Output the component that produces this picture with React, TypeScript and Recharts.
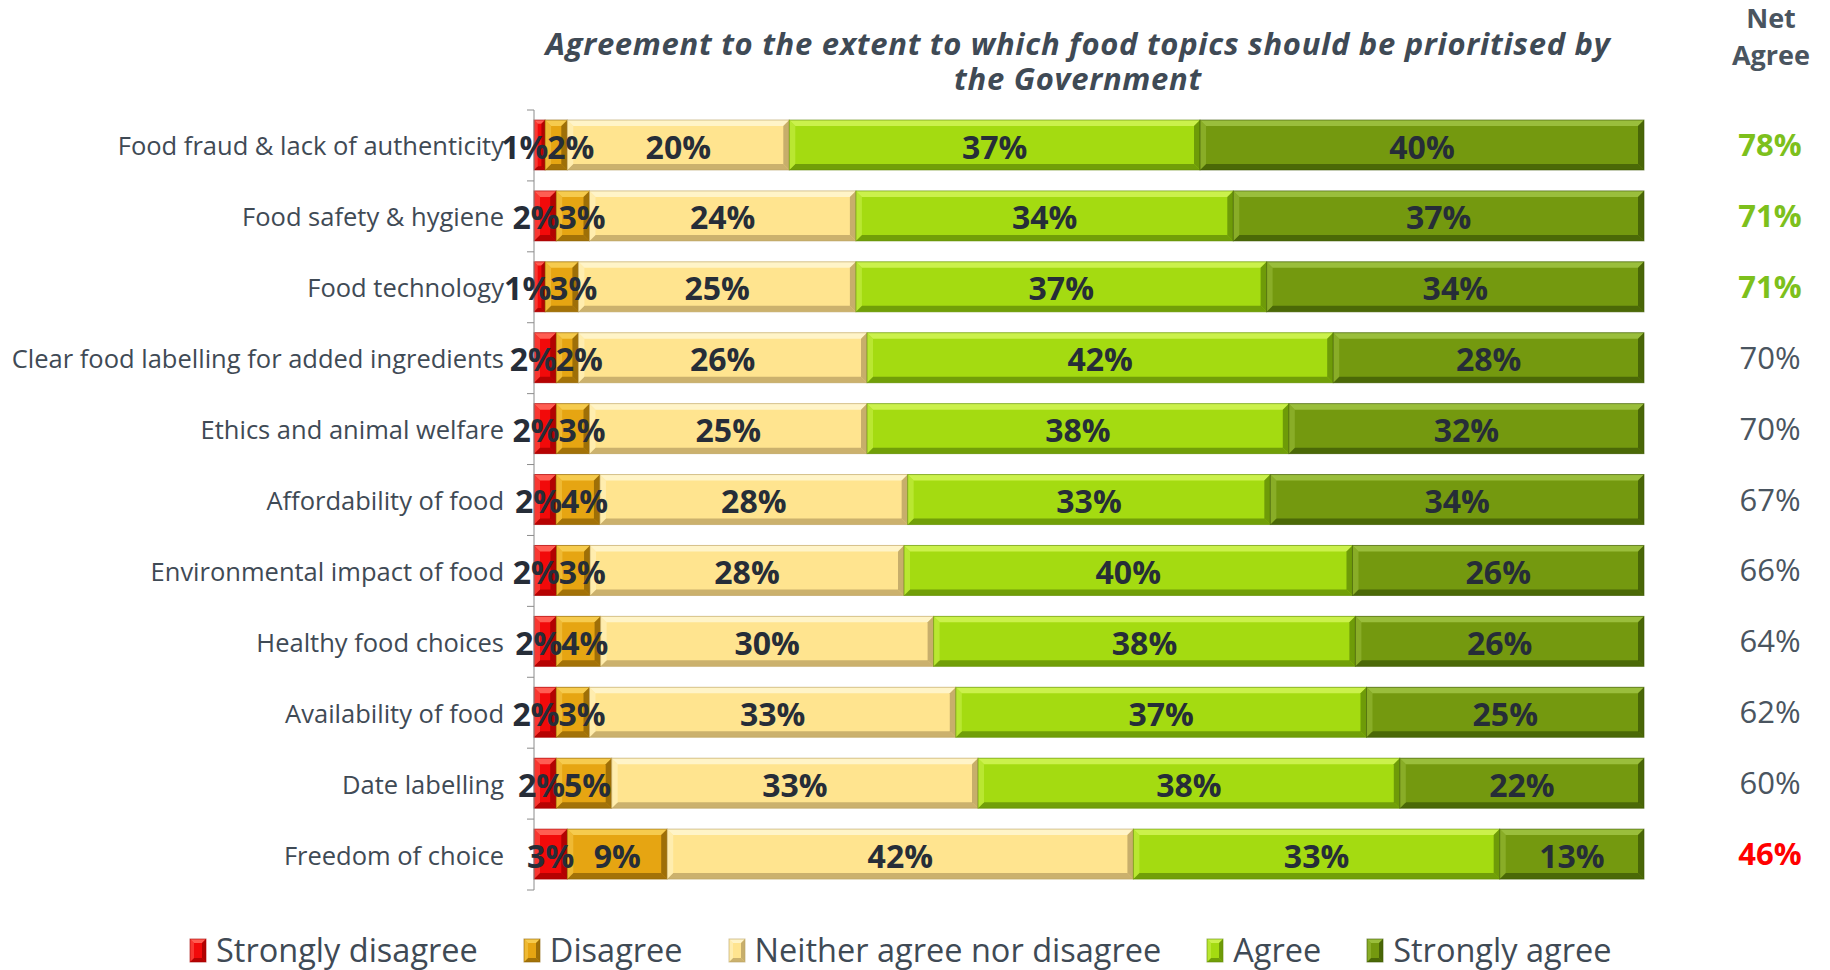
import React from 'react';
import { BarChart, Bar, XAxis, YAxis, Legend, LabelList } from 'recharts';

// Survey categories (top to bottom) and answer shares in %
const CATEGORIES = [
  'Food fraud & lack of authenticity',
  'Food safety & hygiene',
  'Food technology',
  'Clear food labelling for added ingredients',
  'Ethics and animal welfare',
  'Affordability of food',
  'Environmental impact of food',
  'Healthy food choices',
  'Availability of food',
  'Date labelling',
  'Freedom of choice',
];
const STRONGLY_DISAGREE = [1, 2, 1, 2, 2, 2, 2, 2, 2, 2, 3];
const DISAGREE = [2, 3, 3, 2, 3, 4, 3, 4, 3, 5, 9];
const NEITHER = [20, 24, 25, 26, 25, 28, 28, 30, 33, 33, 42];
const AGREE = [37, 34, 37, 42, 38, 33, 40, 38, 37, 38, 33];
const STRONGLY_AGREE = [40, 37, 34, 28, 32, 34, 26, 26, 25, 22, 13];
const NET_AGREE = [78, 71, 71, 70, 70, 67, 66, 64, 62, 60, 46];

const data = CATEGORIES.map((name, i) => ({
  name,
  sd: STRONGLY_DISAGREE[i],
  d: DISAGREE[i],
  n: NEITHER[i],
  a: AGREE[i],
  sa: STRONGLY_AGREE[i],
  net: NET_AGREE[i],
}));

const FONT = '"Open Sans", sans-serif';
const TEXT = '#3F4A55';
const LABEL = '#262D38';
const Y_AXIS_WIDTH = 534;
const NET_X = 1770;
const LABEL_W = 46; // approx width of a "2%" label, used to keep the tiny ones apart

// base / light / dark shades for the bevelled look
const SERIES = [
  { key: 'sd', name: 'Strongly disagree', base: '#F20A0A', light: '#FF5D52', dark: '#A10000' },
  { key: 'd', name: 'Disagree', base: '#E6A512', light: '#F6CB4E', dark: '#8C6205' },
  { key: 'n', name: 'Neither agree nor disagree', base: '#FFE48F', light: '#FFF4C8', dark: '#B9A062' },
  { key: 'a', name: 'Agree', base: '#A4DB11', light: '#CBF14C', dark: '#608B06' },
  { key: 'sa', name: 'Strongly agree', base: '#74990F', light: '#9ABE3C', dark: '#3E5905' },
];

const Bevel = ({ x, y, width, height, c, b0 = 6 }: any) => {
  if (!width || width <= 0) return null;
  const b = Math.min(b0, width / 3, height / 3);
  const r = x + width;
  const bt = y + height;
  return (
    <g>
      <rect x={x} y={y} width={width} height={height} fill={c.base} />
      <polygon points={`${x},${y} ${r},${y} ${r - b},${y + b} ${x + b},${y + b}`} fill={c.light} />
      <polygon points={`${x},${bt} ${r},${bt} ${r - b},${bt - b} ${x + b},${bt - b}`} fill={c.dark} opacity={0.75} />
      <polygon points={`${x},${y} ${x + b},${y + b} ${x + b},${bt - b} ${x},${bt}`} fill={c.light} opacity={0.55} />
      <polygon points={`${r},${y} ${r - b},${y + b} ${r - b},${bt - b} ${r},${bt}`} fill={c.dark} opacity={0.8} />
      <rect x={x} y={y} width={width} height={height} fill="none" stroke={c.dark} strokeOpacity={0.6} strokeWidth={1} />
    </g>
  );
};

const CategoryTick = (props: any) => {
  const { y, payload, index } = props;
  const half = payload && payload.offset ? payload.offset : 35.5;
  const ax = Y_AXIS_WIDTH;
  return (
    <g>
      <line x1={ax - 7} x2={ax} y1={y - half} y2={y - half} stroke="#8C8C8C" />
      {index === CATEGORIES.length - 1 && (
        <line x1={ax - 7} x2={ax} y1={y + half} y2={y + half} stroke="#8C8C8C" />
      )}
      <text x={ax - 30} y={y} textAnchor="end" dominantBaseline="central" fill={TEXT} fontSize={25.5} fontFamily={FONT}>
        {payload.value}
      </text>
    </g>
  );
};

// the two thin segments get their labels pushed apart, like the original
const SegmentLabel = (props: any) => {
  const { x, y, width, height, value, index, seriesKey } = props;
  let cx = x + width / 2;
  if (seriesKey === 'sd' || seriesKey === 'd') {
    const perPct = width / value;
    let c1: number, c2: number;
    if (seriesKey === 'sd') {
      c1 = cx;
      c2 = x + width + (DISAGREE[index] * perPct) / 2;
    } else {
      c2 = cx;
      c1 = x - (STRONGLY_DISAGREE[index] * perPct) / 2;
    }
    if (c2 - c1 < LABEL_W) {
      const mid = (c1 + c2) / 2;
      c1 = mid - LABEL_W / 2;
      c2 = mid + LABEL_W / 2;
    }
    cx = seriesKey === 'sd' ? c1 : c2;
  }
  return (
    <text x={cx} y={y + height / 2 + 1} textAnchor="middle" dominantBaseline="central"
      fill={LABEL} fontSize={32} fontWeight={700} fontFamily={FONT}>
      {value}%
    </text>
  );
};

const NetLabel = (props: any) => {
  const { y, height, index } = props;
  const v = NET_AGREE[index];
  let color = '#4A5560';
  let weight = 400;
  if (v >= 71) { color = '#7DC01C'; weight = 700; }
  if (v < 50) { color = '#FF0000'; weight = 700; }
  return (
    <text x={NET_X} y={y + height / 2 - 1} textAnchor="middle" dominantBaseline="central"
      fill={color} fontSize={31} fontWeight={weight} fontFamily={FONT}>
      {v}%
    </text>
  );
};

const LegendContent = () => (
  <div style={{ display: 'flex', alignItems: 'center', height: 40, paddingLeft: 189, fontFamily: FONT }}>
    {SERIES.map((s) => (
      <div key={s.key} style={{ display: 'flex', alignItems: 'center', marginRight: 45 }}>
        <svg width={18} height={25} style={{ marginRight: 9 }}>
          <Bevel x={1} y={1} width={16} height={23} c={s} b0={4} />
        </svg>
        <span style={{ fontSize: 32.5, color: TEXT, lineHeight: '40px' }}>{s.name}</span>
      </div>
    ))}
  </div>
);

export default function App() {
  return (
    <div style={{ position: 'absolute', left: 0, top: 0, width: 1830, height: 970, background: '#fff', fontFamily: FONT }}>
      <div style={{ position: 'absolute', left: 478, top: 26, width: 1200, textAlign: 'center', color: TEXT,
        fontSize: 31, lineHeight: '35px', fontWeight: 700, fontStyle: 'italic', letterSpacing: 0.7 }}>
        Agreement to the extent to which food topics should be prioritised by<br />the Government
      </div>
      <div style={{ position: 'absolute', left: 1700, top: -1, width: 142, textAlign: 'center', color: '#4A5560',
        fontSize: 27, lineHeight: '37px', fontWeight: 700 }}>
        Net<br />Agree
      </div>
      <BarChart
        width={1830}
        height={970}
        data={data}
        layout="vertical"
        stackOffset="expand"
        barSize={50}
        margin={{ top: 110, right: 186, left: 0, bottom: 40 }}
        style={{ position: 'absolute', left: 0, top: 0 }}
      >
        <XAxis type="number" domain={[0, 1]} hide />
        <YAxis
          type="category"
          dataKey="name"
          width={Y_AXIS_WIDTH}
          axisLine={{ stroke: '#8C8C8C' }}
          tickLine={false}
          tick={<CategoryTick />}
          interval={0}
        />
        <Legend
          verticalAlign="bottom"
          content={<LegendContent />}
          wrapperStyle={{ left: 0, top: 930, bottom: 'auto', width: 1830 }}
        />
        {SERIES.map((s) => (
          <Bar key={s.key} dataKey={s.key} name={s.name} stackId="x" fill={s.base} isAnimationActive={false}
            shape={(p: any) => <Bevel {...p} c={s} />}>
            <LabelList dataKey={s.key} content={(p: any) => <SegmentLabel {...p} seriesKey={s.key} />} />
            {s.key === 'sa' && <LabelList dataKey="net" content={<NetLabel />} />}
          </Bar>
        ))}
      </BarChart>
    </div>
  );
}
